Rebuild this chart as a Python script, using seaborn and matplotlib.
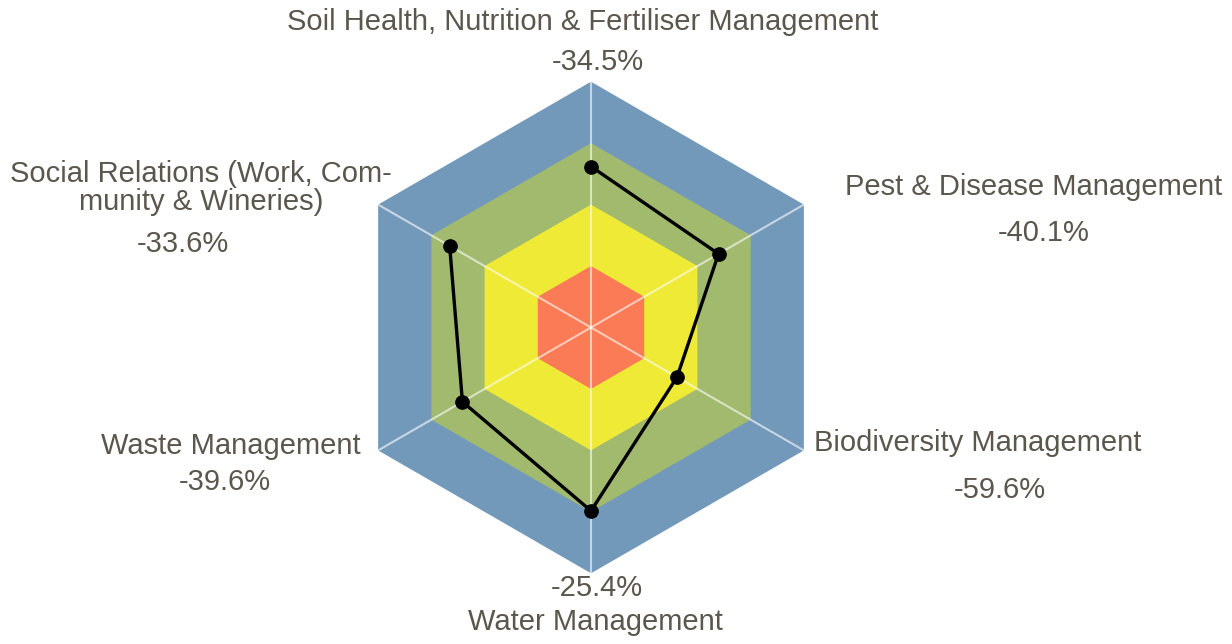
import numpy as np
import pandas as pd
import seaborn as sns
import matplotlib

matplotlib.use("Agg")
import matplotlib.pyplot as plt

# Data
categories = [
    "Soil Health, Nutrition & Fertiliser Management",
    "Pest & Disease Management",
    "Biodiversity Management",
    "Water Management",
    "Waste Management",
    "Social Relations (Work, Com-\nmunity & Wineries)",
]
change_labels = ["-34.5%", "-40.1%", "-59.6%", "-25.4%", "-39.6%", "-33.6%"]
scores = [0.655, 0.599, 0.404, 0.746, 0.604, 0.664]

# background bands (outer radius, colour)
band_levels = [1.0, 0.75, 0.5, 0.25]
band_colors = ["#7399ba", "#a1ba6e", "#eeea35", "#fa7b55"]

TEXT = "#5b574d"

sns.set_theme(style="white")
plt.rcParams["font.family"] = ["Liberation Sans", "DejaVu Sans"]

W, H, DPI = 1232, 644, 100
CX, CY, R = 591, 327.5, 245.8  # centre and radius in pixels

fig = plt.figure(figsize=(W / DPI, H / DPI), dpi=DPI)
ax = fig.add_axes([0, 0, 1, 1])
ax.set_xlim(-CX / R, (W - CX) / R)
ax.set_ylim(-(H - CY) / R, CY / R)
ax.set_aspect("equal")
ax.axis("off")

n = len(categories)
angles = np.pi / 2 - np.arange(n) * 2 * np.pi / n


def px(x, y):
    return (x - CX) / R, (CY - y) / R


# hexagon bands
for lvl, col in zip(band_levels, band_colors):
    hx = lvl * np.cos(angles)
    hy = lvl * np.sin(angles)
    ax.fill(hx, hy, color=col, lw=0, zorder=1)

# spokes
for a in angles:
    ax.plot([0, np.cos(a)], [0, np.sin(a)], color="white", alpha=0.6, lw=1.5, zorder=2)

# data polygon
df = pd.DataFrame({
    "x": np.array(scores) * np.cos(angles),
    "y": np.array(scores) * np.sin(angles),
})
closed = pd.concat([df, df.iloc[:1]], ignore_index=True)
sns.lineplot(data=closed, x="x", y="y", sort=False, color="black", lw=2.4, ax=ax, zorder=3)
sns.scatterplot(data=df, x="x", y="y", color="black", s=95, edgecolor="black", ax=ax, zorder=4)
ax.set_xlabel("")
ax.set_ylabel("")

# labels: (category position, value position) in pixels
label_pos = [(583, 22), (1034, 187), (978, 443), (595, 622), (231, 446), (201, 188)]
value_pos = [(598, 62), (1044, 233), (1000, 490), (597, 588), (225, 482), (183, 244)]

fs = 21
for cat, lab, lp, vp in zip(categories, change_labels, label_pos, value_pos):
    ax.text(*px(*lp), cat, ha="center", va="center", fontsize=fs, color=TEXT,
            linespacing=0.98)
    ax.text(*px(*vp), lab, ha="center", va="center", fontsize=fs, color=TEXT)

fig.savefig("out.png", dpi=DPI)
